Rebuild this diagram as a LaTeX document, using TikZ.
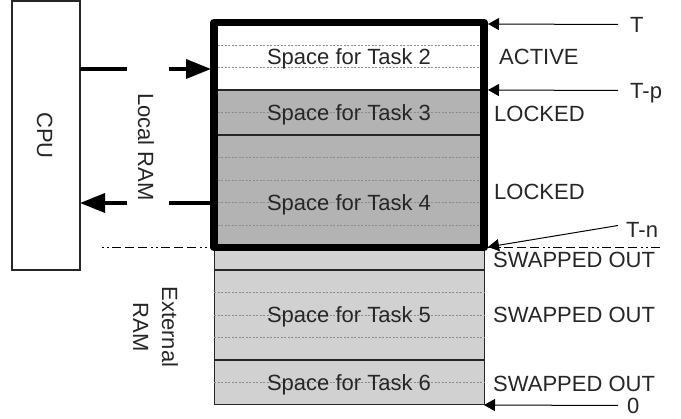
\documentclass[tikz,border=0pt]{standalone}
\usepackage{fontspec}
\setmainfont{Liberation Sans}
\usetikzlibrary{positioning,arrows.meta}
\definecolor{lockgray}{RGB}{179,179,179}
\definecolor{swapgray}{RGB}{209,209,209}
\definecolor{ink}{RGB}{38,38,38}
\tikzset{
lbl/.style={font=\fontsize{22}{29}\selectfont, text=ink, inner sep=2pt,
  text height=16pt, text depth=0pt},
tag/.style={lbl, anchor=west, inner xsep=12pt},
unit/.style={draw=ink, line width=1.2pt, outer sep=0pt, inner sep=0pt},
mem/.style={minimum width=270pt, inner sep=0pt, outer sep=0pt},
slot/.style={draw=black!45, line width=0.8pt, dash pattern=on 2pt off 1.5pt},
split/.style={draw=ink, line width=1.2pt},
frame/.style={draw=black, line width=7.5pt, line join=round},
boundary/.style={draw=black, line width=1.2pt,
  dash pattern=on 2pt off 3pt on 2pt off 3pt on 9pt off 4pt on 9pt off 4pt on 9pt off 4pt},
bus/.style={draw=black, line width=3.5pt, -{Triangle[length=25pt,width=19pt]}},
ptr/.style={draw=black, line width=1pt, -{Triangle[length=11pt,width=12pt]}},
}

\begin{document}
\begin{tikzpicture}[x=1pt,y=-1pt]
\useasboundingbox (0,0) rectangle (681,419);

% local / external boundary
\coordinate (bl) at (102,247.5);
\coordinate (br) at (663,247.5);
\draw[boundary] (bl) -- (br);

% memory
\node[mem, fill=lockgray, minimum height=225pt] (loc) at (349,135) {};
\node[mem, fill=swapgray, draw=ink, line width=1pt, minimum height=157.5pt,
  below=0pt of loc] (ext) {};
\fill[white] (loc.north west) rectangle (484,90);

\foreach \k in {1,2,4,6,7,8,9,12,13,14,16}
  \draw[slot] (214,{22.5+22.5*\k}) -- (484,{22.5+22.5*\k});
\foreach \k in {3,5,11,15}
  \draw[split] (214,{22.5+22.5*\k}) -- (484,{22.5+22.5*\k});

\node[lbl] (t2) at (349,56.25) {Space for Task 2};
\node[lbl] (t3) at (349,112.5) {Space for Task 3};
\node[lbl] (t4) at (349,202.5) {Space for Task 4};
\node[lbl] (t5) at (349,315) {Space for Task 5};
\node[lbl] (t6) at (349,382.5) {Space for Task 6};

\draw[frame] (loc.north west) rectangle (loc.south east);

% states
\node[lbl, anchor=west] (s2) at (497,56.5) {ACTIVE};
\node[lbl, anchor=west] (s3) at (492,113.5) {LOCKED};
\node[lbl, anchor=west] (s4) at (492,191.5) {LOCKED};
\node[lbl, anchor=west] (s4b) at (491,259.5) {SWAPPED OUT};
\node[lbl, anchor=west] (s5) at (491,315) {SWAPPED OUT};
\node[lbl, anchor=west] (s6) at (491,383.5) {SWAPPED OUT};

% cpu side
\node[unit, minimum width=68pt, minimum height=269pt] (cpu) at (46,135.5) {};
\node[lbl, rotate=-90] (cpulbl) at (45,135.5) {CPU};
\node[lbl, rotate=-90] (locram) at (146,147) {Local RAM};
\node[font=\fontsize{22}{29}\selectfont, text=ink, align=center, inner sep=0pt,
  rotate=-90] (extram) at (155.5,327) {External\\RAM};

\coordinate (rd) at (211,69);
\coordinate (wr) at (211,203);
\draw[bus, dash pattern=on 47pt off 42pt on 300pt] (cpu.east |- rd) -- (rd);
\draw[bus, dash pattern=on 42pt off 42pt on 300pt] (wr) -- (cpu.east |- wr);

% pointers
\coordinate (pT) at (488,24);
\coordinate (pTp) at (488,90);
\coordinate (pTn) at (488,247);
\node[tag] (T) at (618,24.5) {T};
\node[tag] (Tp) at (618,90.5) {T-p};
\node[tag, inner xsep=8pt] (Tn) at (618,229.5) {T-n};
\node[tag, inner xsep=9pt] (zero) at (618,405.5) {0};
\draw[ptr] (T.west) -- (pT);
\draw[ptr] (Tp.west) -- (pTp);
\draw[ptr] ([yshift=4pt]Tn.west) -- (pTn);
\draw[ptr] (zero.west) -- (ext.south east);
\end{tikzpicture}
\end{document}
